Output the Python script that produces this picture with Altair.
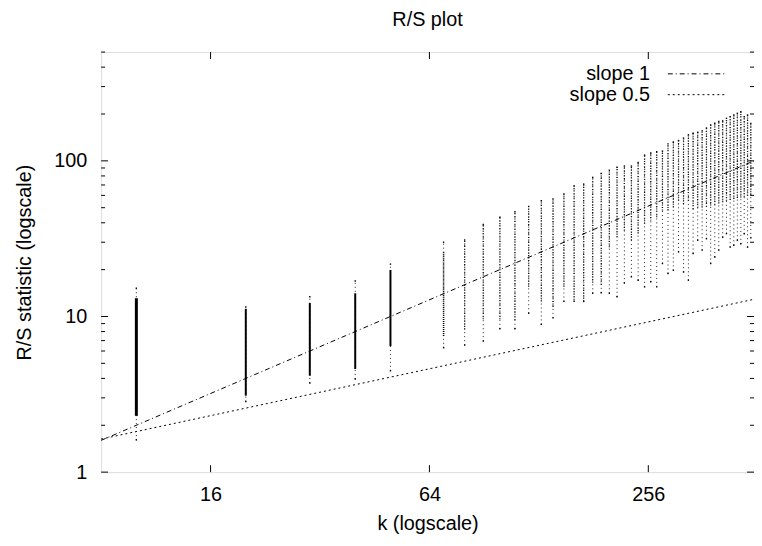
import altair as alt
import pandas as pd

# ---- data ----
k_cols = [10, 20, 30, 40, 50, 70, 80, 90, 100, 110, 120, 130, 140, 150, 160, 170,
          180, 190, 200, 210, 220, 230, 240, 250, 260, 270, 280, 290, 300, 310, 320,
          330, 340, 350, 360, 370, 380, 390, 400, 410, 420, 430, 440, 450, 460, 470,
          480, 490]
rs_top = [15.2, 11.5, 13.4, 16.9, 21.7, 30.0, 31.0, 39.0, 43.4, 47.1, 50.9, 55.4,
          56.9, 61.2, 69.1, 70.9, 78.3, 83.0, 87.0, 91.0, 92.6, 92.6, 97.7, 108.8,
          112.5, 114.3, 115.5, 128.5, 132.2, 135.0, 140.0, 147.0, 150.5, 152.6, 155.7,
          162.5, 170.0, 174.5, 179.0, 180.6, 187.6, 192.4, 197.2, 202.0, 207.0, 192.0,
          197.0, 174.0]
rs_core_hi = [13.1, 11.2, 12.2, 14.1, 19.9, 26.0, 31.0, 39.0, 43.4, 47.1, 50.9, 55.4,
              56.9, 61.2, 69.1, 70.9, 78.3, 83.0, 87.0, 91.0, 92.6, 92.6, 97.7, 108.8,
              112.5, 114.3, 115.5, 128.5, 132.2, 135.0, 140.0, 147.0, 150.5, 152.6,
              155.7, 162.5, 170.0, 174.5, 179.0, 180.6, 187.6, 192.4, 197.2, 202.0,
              207.0, 192.0, 197.0, 174.0]
rs_core_lo = [2.3, 3.1, 4.16, 4.6, 6.45, 7.5, 8.25, 9.6, 9.6, 9.5, 15.5, 12.5, 11.5,
              15.5, 12.8, 12.5, 16.5, 16.0, 27.9, 32.3, 35.7, 30.9, 34.1, 39.4, 41.3,
              43.4, 47.9, 47.9, 50.2, 55.4, 52.8, 55.4, 49.1, 49.9, 50.2, 50.8, 51.6,
              52.3, 53.3, 54.2, 55.4, 56.0, 56.9, 57.7, 58.2, 58.8, 59.7, 60.6]
rs_low = [1.61, 2.84, 3.74, 3.97, 4.48, 6.3, 6.55, 6.95, 8.34, 8.34, 10.5, 8.9, 9.8,
          12.5, 12.5, 12.5, 14.1, 14.2, 14.1, 13.4, 16.4, 18.0, 17.1, 15.5, 16.7, 15.5,
          21.9, 18.9, 19.8, 26.0, 19.3, 17.1, 25.4, 30.9, 26.7, 31.6, 21.9, 24.1, 26.7,
          32.3, 34.1, 27.9, 28.7, 30.9, 29.3, 34.0, 27.9, 32.0]

slope_k = [8, 500]
slope1_v = [1.6, 100.0]
slope05_v = [1.63, 12.9]

x_ticks = [16, 64, 256]
y_major = [1, 10, 100]
y_minor = [2, 3, 4, 5, 6, 7, 8, 9, 20, 30, 40, 50, 60, 70, 80, 90, 200, 300, 400, 500]
legend_labels = ["slope 1", "slope 0.5"]

# ---- layout / style ----
W, H = 659, 424
F = "Liberation Sans"
FS = 20

cols = pd.DataFrame({"k": k_cols, "top": rs_top, "hi": rs_core_hi,
                     "lo": rs_core_lo, "low": rs_low})
slopes1 = pd.DataFrame({"k": slope_k, "v": slope1_v})
slopes05 = pd.DataFrame({"k": slope_k, "v": slope05_v})

xs = alt.Scale(type="log", domain=[8, 500], nice=False)
ys = alt.Scale(type="log", domain=[1, 500], nice=False)

xaxis = alt.Axis(values=x_ticks, format="d", ticks=False, tickSize=0, domain=False,
                 grid=False, labelFont=F, labelFontSize=FS, labelColor="black",
                 labelPadding=13, title="k (logscale)", titleFont=F,
                 titleFontSize=FS, titleFontWeight="normal", titleColor="black",
                 titleY=52, titleBaseline="middle")
yaxis = alt.Axis(values=y_major, format="d", ticks=False, tickSize=0, domain=False,
                 grid=False, labelFont=F, labelFontSize=FS, labelColor="black",
                 labelPadding=14.5, title="R/S statistic (logscale)", titleFont=F,
                 titleFontSize=FS, titleFontWeight="normal", titleColor="black",
                 titleX=-77, titleY=H / 2, titleBaseline="middle")

def X(f):
    return alt.X(f, type="quantitative", scale=xs, axis=xaxis)

def Y(f):
    return alt.Y(f, type="quantitative", scale=ys, axis=yaxis)

base = alt.Chart(cols)

tails = base.mark_rule(strokeDash=[1, 3], strokeWidth=1, color="#222").encode(
    x=X("k"), y=Y("low"), y2="top")

dense = base.transform_filter("datum.k <= 50").mark_rule(color="black").encode(
    x=X("k"), y=Y("lo"), y2="hi",
    strokeWidth=alt.condition("datum.k <= 10", alt.value(3), alt.value(2)))

mid = base.transform_filter("datum.k > 50 && datum.k <= 70").mark_rule(
    strokeDash=[1, 1], strokeWidth=1.6, color="black").encode(
    x=X("k"), y=Y("lo"), y2="hi")

sparse = base.transform_filter("datum.k > 70").mark_rule(
    strokeDash=[1, 1.6], strokeWidth=1.3, color="#111").encode(
    x=X("k"), y=Y("lo"), y2="hi")

ends = base.mark_square(size=2, color="black", opacity=1).encode(x=X("k"), y=Y("low"))
tops = base.mark_square(size=2, color="black", opacity=1).encode(x=X("k"), y=Y("top"))

line1 = alt.Chart(slopes1).mark_line(strokeDash=[5, 3, 1, 3], strokeWidth=1,
                                     color="black").encode(x=X("k"), y=Y("v"))
line05 = alt.Chart(slopes05).mark_line(strokeDash=[2, 3], strokeWidth=1,
                                       color="black").encode(x=X("k"), y=Y("v"))

ymaj = pd.DataFrame({"v": y_major})
ymin = pd.DataFrame({"v": y_minor})
xmaj = pd.DataFrame({"k": x_ticks})

tk = dict(color="black", strokeWidth=1)
ticks = [
    alt.Chart(ymaj).mark_rule(**tk).encode(y=Y("v"), x=alt.value(0), x2=alt.value(7)),
    alt.Chart(ymaj).mark_rule(**tk).encode(y=Y("v"), x=alt.value(W - 7), x2=alt.value(W)),
    alt.Chart(ymin).mark_rule(**tk).encode(y=Y("v"), x=alt.value(0), x2=alt.value(4)),
    alt.Chart(ymin).mark_rule(**tk).encode(y=Y("v"), x=alt.value(W - 4), x2=alt.value(W)),
    alt.Chart(xmaj).mark_rule(**tk).encode(x=X("k"), y=alt.value(H - 7), y2=alt.value(H)),
    alt.Chart(xmaj).mark_rule(**tk).encode(x=X("k"), y=alt.value(0), y2=alt.value(7)),
]

leg = []
for i, (lab, dash) in enumerate(zip(legend_labels, [[5, 3, 1, 3], [2, 3]])):
    yy = 22 + 21 * i
    d = pd.DataFrame({"label": [lab]})
    leg.append(alt.Chart(d).mark_text(align="right", baseline="middle", font=F,
                                      fontSize=FS, color="black").encode(
        text="label:N", x=alt.value(554), y=alt.value(yy)))
    leg.append(alt.Chart(d).mark_rule(strokeDash=dash, strokeWidth=1,
                                      color="black").encode(
        x=alt.value(572), x2=alt.value(629), y=alt.value(yy)))

chart = alt.layer(tails, dense, mid, sparse, ends, tops, line1, line05, *ticks, *leg).properties(
    width=W, height=H,
    title=alt.Title("R/S plot", font=F, fontSize=FS, fontWeight="normal",
                    anchor="middle", frame="group", offset=22, color="black"),
    padding={"left": 94, "top": 42, "right": 0, "bottom": 62},
    autosize=alt.AutoSizeParams(type="none"),
).configure_view(stroke="black", strokeWidth=1).configure(background="white")

chart.save("out.html", embed_options={"renderer": "svg", "actions": False})
